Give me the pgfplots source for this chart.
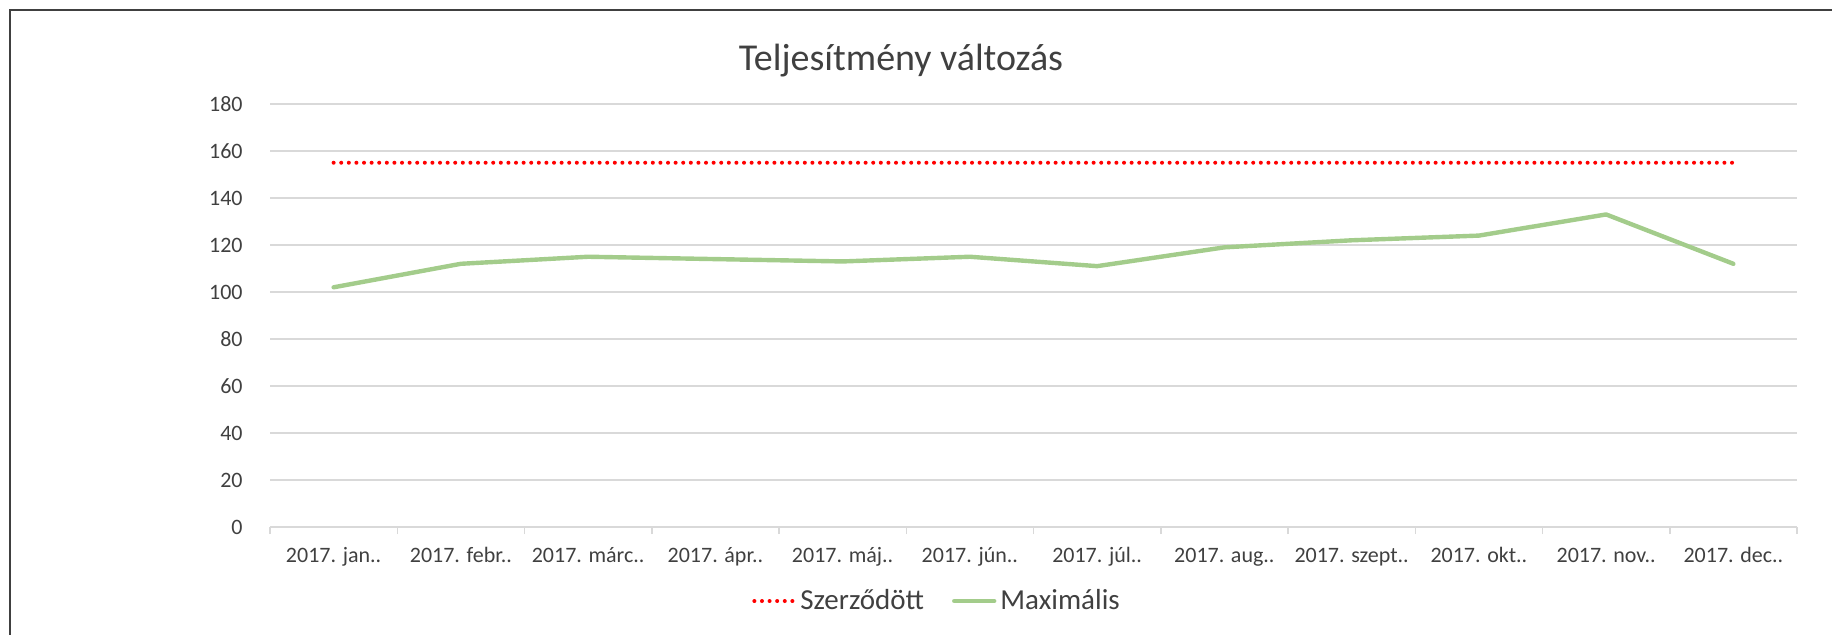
\documentclass[border=0pt]{standalone}
\usepackage{fontspec}
\setmainfont{Carlito}
\usepackage{pgfplots}
\pgfplotsset{compat=1.18}
\definecolor{txt}{HTML}{404040}
\definecolor{gridc}{HTML}{D9D9D9}
\definecolor{grn}{HTML}{A3CC8B}
\definecolor{redc}{HTML}{FF0000}

\begin{document}
\begin{tikzpicture}
\useasboundingbox (0,0) rectangle (916bp,317.5bp);
% chart area frame (cut at right and bottom)
\draw[line width=1bp, color=txt] (4.75bp,0) -- (4.75bp,312.5bp) -- (916bp,312.5bp);
\begin{axis}[
  at={(135bp,54bp)}, anchor=south west,
  scale only axis, width=763.5bp, height=211.5bp,
  xmin=-0.5, xmax=11.5, ymin=0, ymax=180,
  xtick={0,...,11},
  xticklabels={2017. jan..,2017. febr..,2017. márc..,2017. ápr..,2017. máj..,2017. jún..,2017. júl..,2017. aug..,2017. szept..,2017. okt..,2017. nov..,2017. dec..},
  minor xtick={-0.5,0.5,...,11.5},
  ytick={0,20,...,180},
  axis x line*=bottom, axis y line*=left,
  x axis line style={gridc, line width=1bp, -},
  y axis line style={draw=none},
  tick align=outside, major tick length=0pt, minor tick length=3.5bp,
  minor tick style={gridc, line width=0.75bp},
  ymajorgrids, grid style={gridc, line width=0.75bp},
  /pgf/number format/assume math mode=true,
  ticklabel style={font=\fontsize{11bp}{13bp}\selectfont, color=txt},
  yticklabel style={inner sep=0pt, xshift=-13.5bp},
  xticklabel style={anchor=base, inner sep=0pt, yshift=-17.5bp},
  title={Teljesítmény változás},
  title style={at={(0.4132,1.052)}, anchor=base, inner sep=0pt, yshift=0pt,
    font=\fontsize{19bp}{23bp}\selectfont, color=txt},
  legend columns=2,
  legend style={at={(0.4375,-0.175)}, anchor=center, draw=none, fill=none,
    font=\fontsize{14.5bp}{17bp}\selectfont, text=txt,
    /tikz/every even column/.append style={column sep=12bp}},
  legend image code/.code={\draw[#1] (0bp,0bp) -- (20bp,0bp);},
]
\addplot[redc, no markers, line width=2bp, line cap=round, dash pattern=on 0pt off 3.8bp] coordinates {
  (0,155) (1,155) (2,155) (3,155) (4,155) (5,155)
  (6,155) (7,155) (8,155) (9,155) (10,155) (11,155)
};
\addlegendentry{Szerződött}
\addplot[grn, no markers, line width=2.2bp, line join=round, line cap=round] coordinates {
  (0,102) (1,112) (2,115) (3,114) (4,113) (5,115)
  (6,111) (7,119) (8,122) (9,124) (10,133) (11,112)
};
\addlegendentry{Maximális}
\end{axis}
\end{tikzpicture}
\end{document}
